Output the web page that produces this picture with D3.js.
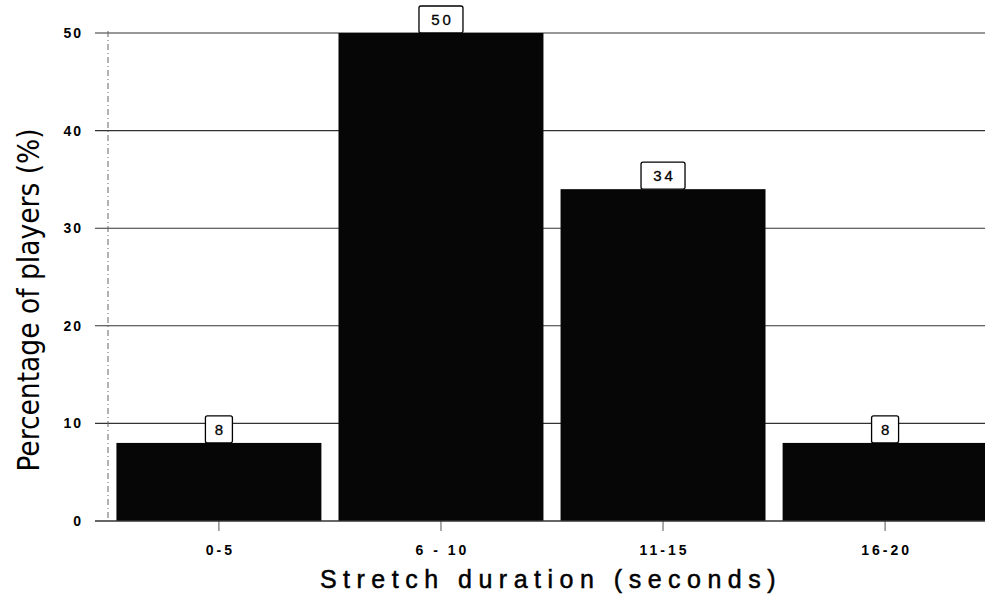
<!DOCTYPE html>
<html>
<head>
<meta charset="utf-8">
<script src="https://cdn.jsdelivr.net/npm/d3@7/dist/d3.min.js"></script>
<style>
  html, body { margin: 0; padding: 0; background: #fff; }
  svg { display: block; }
</style>
</head>
<body>
<svg id="chart" width="985" height="598"></svg>
<script>
// Share of players by stretch duration
const categories = ["0-5", "6 - 10", "11-15", "16-20"];
const values = [8, 50, 34, 8];
const yTicks = [0, 10, 20, 30, 40, 50];

(function () {
const svg = d3.select("#chart");
const plotLeft = 108, plotRight = 996, plotTop = 33, plotBottom = 521;

const x = d3.scaleBand()
  .domain(categories)
  .range([plotLeft, plotRight])
  .paddingInner(0.077)
  .paddingOuter(0.038);

const y = d3.scaleLinear()
  .domain([0, 50])
  .range([plotBottom, plotTop]);

// horizontal grid lines with short ticks left of the axis
svg.append("g")
  .selectAll("line")
  .data(yTicks.filter(d => d > 0))
  .join("line")
  .attr("x1", plotLeft - 13)
  .attr("x2", plotRight)
  .attr("y1", d => y(d))
  .attr("y2", d => y(d))
  .attr("stroke", "#333")
  .attr("stroke-width", 1.1);

// vertical axis, dashed
svg.append("line")
  .attr("x1", plotLeft).attr("x2", plotLeft)
  .attr("y1", plotTop - 2).attr("y2", plotBottom)
  .attr("stroke", "#666")
  .attr("stroke-width", 1)
  .attr("stroke-dasharray", "6,3,1,3");

const tickFont = sel => sel
  .attr("font-family", "Liberation Sans, Arial, sans-serif")
  .attr("font-size", 14)
  .attr("font-weight", "bold")
  .attr("fill", "#000");

// y tick labels
const yAxis = d3.axisLeft(y).tickValues(yTicks).tickSize(0).tickPadding(25);
const gy = svg.append("g").attr("transform", `translate(${plotLeft},0)`).call(yAxis);
gy.select(".domain").remove();
gy.selectAll("text").call(tickFont).attr("letter-spacing", "2px");

// bars
svg.append("g")
  .selectAll("rect")
  .data(values)
  .join("rect")
  .attr("x", (d, i) => x(categories[i]))
  .attr("width", x.bandwidth())
  .attr("y", d => y(d))
  .attr("height", d => plotBottom - y(d))
  .attr("fill", "#060606");

// bottom axis with ticks at category centres
const xAxis = d3.axisBottom(x).tickSize(10).tickPadding(14);
const gx = svg.append("g").attr("transform", `translate(0,${plotBottom})`).call(xAxis);
gx.select(".domain").remove();
gx.selectAll(".tick line").attr("stroke", "#555").attr("stroke-width", 1);
gx.selectAll("text").call(tickFont).attr("letter-spacing", "3px").attr("dx", 1.5);
svg.append("line")
  .attr("x1", plotLeft - 13).attr("x2", plotRight)
  .attr("y1", plotBottom).attr("y2", plotBottom)
  .attr("stroke", "#333")
  .attr("stroke-width", 1.5);

// value labels in boxes above bars
const lab = svg.append("g").selectAll("g")
  .data(values)
  .join("g")
  .attr("transform", (d, i) => `translate(${x(categories[i]) + x.bandwidth() / 2},${y(d)})`);
lab.append("rect")
  .attr("x", d => String(d).length > 1 ? -22 : -13.5)
  .attr("width", d => String(d).length > 1 ? 44 : 27)
  .attr("y", -27)
  .attr("height", 27)
  .attr("rx", 2)
  .attr("fill", "#fff")
  .attr("stroke", "#000")
  .attr("stroke-width", 1.3);
lab.append("text")
  .attr("text-anchor", "middle")
  .attr("y", -8)
  .attr("font-family", "Liberation Sans, Arial, sans-serif")
  .attr("font-size", 15)
  .attr("letter-spacing", "3px")
  .attr("dx", 1.5)
  .attr("fill", "#000")
  .attr("stroke", "#000")
  .attr("stroke-width", 0.3)
  .text(d => d);

// axis titles
svg.append("text")
  .attr("x", 551)
  .attr("y", 588)
  .attr("text-anchor", "middle")
  .attr("font-family", "Liberation Sans, Arial, sans-serif")
  .attr("font-size", 25)
  .attr("letter-spacing", "6.5px")
  .attr("fill", "#000")
  .attr("stroke", "#000")
  .attr("stroke-width", 0.5)
  .text("Stretch duration (seconds)");

svg.append("text")
  .attr("transform", "translate(39,300) rotate(-90)")
  .attr("text-anchor", "middle")
  .attr("font-family", "Liberation Sans Narrow, DejaVu Sans Condensed, sans-serif")
  .attr("font-size", 29.5)
  .attr("fill", "#000")
  .text("Percentage of players (%)");
})();
</script>
</body>
</html>
